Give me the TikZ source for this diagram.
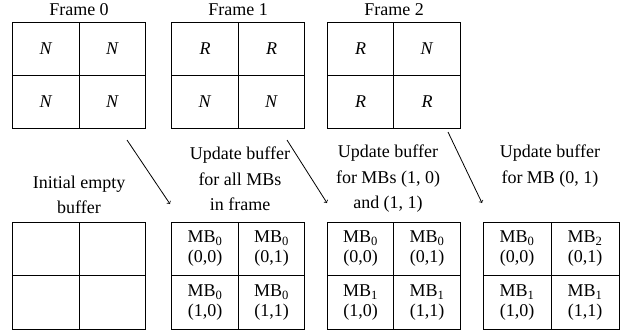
\documentclass[tikz,border=0pt]{standalone}
\usepackage{fontspec}
\setmainfont{Liberation Serif}
\usetikzlibrary{arrows}

\begin{document}
\begin{tikzpicture}[x=1pt,y=-1pt,
        cell/.style={draw, line width=0.9pt, minimum width=66.5pt, minimum height=53pt,
            inner sep=0pt, align=center, font=\fontsize{18}{20}\selectfont},
        lbl/.style={align=center, inner sep=0pt, font=\fontsize{18}{25.5}\selectfont},
        upd/.style={-to, line width=0.8pt}]
        \useasboundingbox (0,0) rectangle (629,334);

        % Frames
        \node[lbl] (t0) at (79,10) {Frame 0};
        \node[lbl] (t1) at (238,10) {Frame 1};
        \node[lbl] (t2) at (394,10) {Frame 2};

        \node[cell] (f0a) at (46,48.5) {\textit{N}};
        \node[cell] (f0b) at (112.5,48.5) {\textit{N}};
        \node[cell] (f0c) at (46,101.5) {\textit{N}};
        \node[cell] (f0d) at (112.5,101.5) {\textit{N}};

        \node[cell] (f1a) at (205,48.5) {\textit{R}};
        \node[cell] (f1b) at (271.5,48.5) {\textit{R}};
        \node[cell] (f1c) at (205,101.5) {\textit{N}};
        \node[cell] (f1d) at (271.5,101.5) {\textit{N}};

        \node[cell] (f2a) at (360.5,48.5) {\textit{R}};
        \node[cell] (f2b) at (427,48.5) {\textit{N}};
        \node[cell] (f2c) at (360.5,101.5) {\textit{R}};
        \node[cell] (f2d) at (427,101.5) {\textit{R}};

        % Buffer states
        \node[lbl] (l0) at (79,195) {Initial empty\\buffer};
        \node[lbl] (l1) at (240,179) {Update buffer\\for all MBs\\in frame};
        \node[lbl] (l2) at (388,179) {Update buffer\\for MBs (1, 0)\\and (1, 1)};
        \node[lbl] (l3) at (550,166) {Update buffer\\for MB (0, 1)};

        \node[cell, minimum height=53.5pt] (b0a) at (46,249) {};
        \node[cell, minimum height=53.5pt] (b0b) at (112.5,249) {};
        \node[cell, minimum height=53.5pt] (b0c) at (46,302.5) {};
        \node[cell, minimum height=53.5pt] (b0d) at (112.5,302.5) {};

        \node[cell, minimum height=53.5pt] (b1a) at (205,249) {MB\textsubscript{0}\\(0,0)};
        \node[cell, minimum height=53.5pt] (b1b) at (271.5,249) {MB\textsubscript{0}\\(0,1)};
        \node[cell, minimum height=53.5pt] (b1c) at (205,302.5) {MB\textsubscript{0}\\(1,0)};
        \node[cell, minimum height=53.5pt] (b1d) at (271.5,302.5) {MB\textsubscript{0}\\(1,1)};

        \node[cell, minimum height=53.5pt] (b2a) at (360.5,249) {MB\textsubscript{0}\\(0,0)};
        \node[cell, minimum height=53.5pt] (b2b) at (427,249) {MB\textsubscript{0}\\(0,1)};
        \node[cell, minimum height=53.5pt] (b2c) at (360.5,302.5) {MB\textsubscript{1}\\(1,0)};
        \node[cell, minimum height=53.5pt] (b2d) at (427,302.5) {MB\textsubscript{1}\\(1,1)};

        \node[cell, minimum height=53.5pt, minimum width=68pt] (b3a) at (517,249) {MB\textsubscript{0}\\(0,0)};
        \node[cell, minimum height=53.5pt, minimum width=68pt] (b3b) at (585,249) {MB\textsubscript{2}\\(0,1)};
        \node[cell, minimum height=53.5pt, minimum width=68pt] (b3c) at (517,302.5) {MB\textsubscript{1}\\(1,0)};
        \node[cell, minimum height=53.5pt, minimum width=68pt] (b3d) at (585,302.5) {MB\textsubscript{1}\\(1,1)};

        % Update arrows
        \coordinate (a1s) at (127,140);
        \coordinate (a1e) at (170,204);
        \coordinate (a2s) at (287,140);
        \coordinate (a2e) at (327,203);
        \coordinate (a3s) at (448,132);
        \coordinate (a3e) at (482,203);
        \draw[upd] (a1s) -- (a1e);
        \draw[upd] (a2s) -- (a2e);
        \draw[upd] (a3s) -- (a3e);
    \end{tikzpicture}
\end{document}
